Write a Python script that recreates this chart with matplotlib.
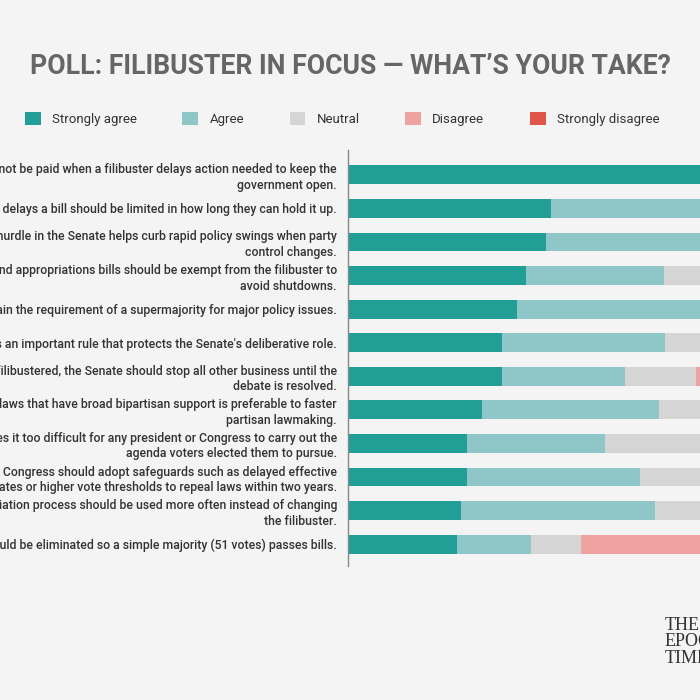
import matplotlib.pyplot as plt
from matplotlib.patches import Patch
import numpy as np

plt.rcParams['font.family'] = ['Roboto', 'DejaVu Sans']

statements = [
    "Members of Congress should not be paid when a filibuster delays action needed to keep the\ngovernment open.",
    "Senators whose filibuster delays a bill should be limited in how long they can hold it up.",
    "The 60-vote hurdle in the Senate helps curb rapid policy swings when party\ncontrol changes.",
    "Budget and appropriations bills should be exempt from the filibuster to\navoid shutdowns.",
    "The Senate should maintain the requirement of a supermajority for major policy issues.",
    "The filibuster is an important rule that protects the Senate's deliberative role.",
    "When a bill is filibustered, the Senate should stop all other business until the\ndebate is resolved.",
    "Slower passage of laws that have broad bipartisan support is preferable to faster\npartisan lawmaking.",
    "The filibuster makes it too difficult for any president or Congress to carry out the\nagenda voters elected them to pursue.",
    "If the filibuster is eliminated, Congress should adopt safeguards such as delayed effective\ndates or higher vote thresholds to repeal laws within two years.",
    "The budget reconciliation process should be used more often instead of changing\nthe filibuster.",
    "The filibuster should be eliminated so a simple majority (51 votes) passes bills.",
]

responses = ['Strongly agree', 'Agree', 'Neutral', 'Disagree', 'Strongly disagree']
strongly_agree = [64.0, 33.8, 33.0, 29.6, 28.1, 25.6, 25.6, 22.3, 19.8, 19.8, 18.9, 18.2]
agree = [22.0, 38.0, 35.0, 23.1, 36.0, 27.2, 20.6, 29.6, 23.1, 28.8, 32.2, 12.3]
neutral = [8.0, 15.0, 17.0, 20.0, 16.0, 18.0, 11.8, 17.0, 22.0, 20.0, 22.0, 8.3]
disagree = [4.0, 9.0, 10.0, 17.0, 13.0, 18.0, 24.0, 19.0, 21.0, 19.0, 17.0, 30.0]
strongly_disagree = [2.0, 4.2, 5.0, 10.3, 6.9, 11.2, 18.0, 12.1, 14.1, 12.4, 9.9, 31.2]

colors = ['#219e95', '#8fc6c7', '#d5d5d5', '#f0a2a2', '#e0554a']
bg = '#f4f4f4'

fig = plt.figure(figsize=(7, 7), dpi=100, facecolor=bg)
# plot area runs past the right edge of the picture on purpose
ax = fig.add_axes([348 / 700, 1 - 561 / 700, 600 / 700, 403 / 700])
ax.set_facecolor(bg)

y = np.arange(len(statements))
left = np.zeros(len(statements))
for vals, c, name in zip([strongly_agree, agree, neutral, disagree, strongly_disagree], colors, responses):
    ax.barh(y, vals, left=left, height=0.56, color=c, label=name)
    left += np.array(vals)

ax.set_xlim(0, 100)
ax.set_ylim(len(statements) - 0.5, -0.5)
ax.set_yticks(y)
ax.set_yticklabels(statements, fontsize=8.8, fontweight='medium', color='#333333', linespacing=1.25)
ax.tick_params(axis='y', length=0, pad=8)
ax.set_xticks([])
for s in ['top', 'right', 'bottom']:
    ax.spines[s].set_visible(False)
ax.spines['left'].set_color('#888888')
ax.spines['left'].set_linewidth(1)
ax.spines['left'].set_bounds(-0.75, len(statements) - 0.35)

fig.text(0.5, 1 - 66 / 700, "POLL: FILIBUSTER IN FOCUS \u2014 WHAT\u2019S YOUR TAKE?",
         ha='center', va='center', fontsize=19.2, fontweight='bold', color='#666666')

handles = [Patch(facecolor=c, edgecolor='none') for c in colors]
fig.legend(handles, responses, loc='center left', bbox_to_anchor=(25 / 700, 1 - 119 / 700),
           ncol=5, frameon=False, fontsize=9.5, handlelength=1.2, handleheight=1.2,
           handletextpad=0.85, columnspacing=3.45, borderpad=0, borderaxespad=0,
           labelcolor='#333333')

fig.text(665 / 700, 1 - 617 / 700, "THE\nEPOCH\nTIMES", ha='left', va='top',
         fontsize=13, family='Liberation Serif', color='#333333', linespacing=0.95)

fig.savefig('out.png', dpi=100, facecolor=bg)
